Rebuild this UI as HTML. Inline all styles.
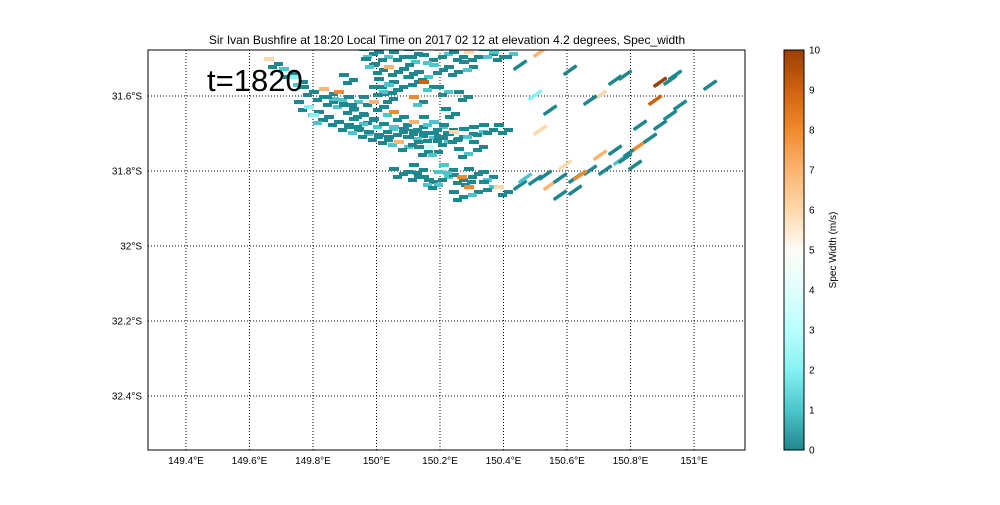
<!DOCTYPE html>
<html><head><meta charset="utf-8"><style>
body{margin:0;background:#fff;font-family:"Liberation Sans",sans-serif;}
svg text{font-family:"Liberation Sans",sans-serif;}
</style></head><body>
<svg id="c" width="1000" height="500" xmlns="http://www.w3.org/2000/svg">
<defs><linearGradient id="cg" x1="0" y1="1" x2="0" y2="0">
<stop offset="0" stop-color="#1f878e"/><stop offset="0.1" stop-color="#4cc6ca"/><stop offset="0.2" stop-color="#86f2f2"/><stop offset="0.3" stop-color="#bafefe"/><stop offset="0.4" stop-color="#e2fefe"/><stop offset="0.5" stop-color="#fdfdf6"/><stop offset="0.6" stop-color="#fdd8ac"/><stop offset="0.7" stop-color="#fbb470"/><stop offset="0.8" stop-color="#f08a2c"/><stop offset="0.9" stop-color="#cf6210"/><stop offset="1" stop-color="#9c3f04"/>
</linearGradient><clipPath id="pc"><rect x="148" y="50" width="597" height="400"/></clipPath></defs>
<text x="447" y="44" font-size="12" text-anchor="middle">Sir Ivan Bushfire at 18:20 Local Time on 2017 02 12 at elevation 4.2 degrees, Spec_width</text>
<g id="grid"></g>
<g id="marks" clip-path="url(#pc)"></g>
<rect x="148" y="50" width="597" height="400" fill="none" stroke="#000" stroke-width="1"/>
<text x="207" y="91" font-size="31">t=1820</text>
<rect x="784" y="50" width="20" height="400" fill="url(#cg)" stroke="#000"/>
<g id="cb"></g>
<text transform="translate(836,250) rotate(-90)" font-size="10" text-anchor="middle">Spec Width (m/s)</text>
</svg>
<script>
const lonTicks=[149.4,149.6,149.8,150.0,150.2,150.4,150.6,150.8,151.0];
const lonLabels=["149.4°E","149.6°E","149.8°E","150°E","150.2°E","150.4°E","150.6°E","150.8°E","151°E"];
const latTicks=[-31.6,-31.8,-32.0,-32.2,-32.4];
const latLabels=["31.6°S","31.8°S","32°S","32.2°S","32.4°S"];
const cbTicks=[0,1,2,3,4,5,6,7,8,9,10];
const echoX=[275,290,300,310,320,330,340,350,360,370,380,390,400,410,420,430,440,305,315,325,335,345,355,365,375,385,395,405,415,425,435,445,455,330,345,355,370,380,390,400,410,420,430,440,450,460,470,480,490,505,370,385,400,415,430,445,460,475,490,510,380,395,410,425,440,455,470,385,400,415,430,445,465,390,420,380,400,415,430,445,460,475,490,435,468,420,450,465,480,460,475,490,505,520,535,550,560,575,590,605,620,630,640,650,660,670,680,600,615,625,635,525,545,565,560,575,580,660,670,675,615,600,570,550,540,590,625,710,655,640,535,520,540,500,320,360,395,350,372,412,452];
const echoY=[62,72,80,90,95,100,102,108,112,118,122,127,130,132,134,136,136,105,110,115,120,125,128,132,135,138,140,145,140,150,150,140,137,92,95,100,100,105,110,115,120,125,120,125,128,135,132,130,128,128,52,55,55,52,58,52,55,55,52,52,68,70,72,75,68,70,65,82,85,80,85,90,95,97,100,90,172,175,180,175,178,172,175,183,180,168,168,152,145,195,190,185,190,185,180,185,178,178,170,170,160,152,145,138,125,115,105,155,150,158,165,178,175,165,195,190,175,82,80,75,80,95,70,110,130,100,75,85,100,125,95,65,52,55,118,122,88,78,62,60,112];
const echoV=[6,1,2,0,0,0,1,0,0,0,0,0,1,0,0,0,0,0,2,0,0,0,0,0,0,0,0,7,0,0,3,0,0,7,8,0,0,7,0,8,0,7,0,1,0,6,0,0,0,0,0,0,0,0,0,7,0,6,0,0,0,7,0,0,1,0,0,0,0,0,9,0,0,0,8,0,0,0,0,1,0,0,0,0,8,0,1,0,0,0,8,0,6,0,0,7,0,0,0,0,1,0,8,0,0,0,0,7,0,0,0,1,0,6,0,0,8,10,0,0,0,6,0,0,6,0,0,0,9,0,2,0,7,1,2,0,1,0,0,0,0];
const lons=echoX.map(x=>149.4+(x-186)/317.5);
const lats=echoY.map(y=>-31.6-(y-96)/375);

const X=lon=>186+(lon-149.4)*317.5;
const Y=lat=>96+(-31.6-lat)*375;
const CB=v=>450-v*40;
const stops=["#1f878e","#4cc6ca","#86f2f2","#bafefe","#e2fefe","#fdfdf6","#fdd8ac","#fbb470","#f08a2c","#cf6210","#9c3f04"];
const NS="http://www.w3.org/2000/svg";
function mk(t,a,p){const e=document.createElementNS(NS,t);for(const k in a)e.setAttribute(k,a[k]);p.appendChild(e);return e;}
const grid=document.getElementById('grid'),marks=document.getElementById('marks'),cb=document.getElementById('cb'),svg=document.getElementById('c');
lonTicks.forEach((l,i)=>{const x=X(l);
 const g=mk('line',{x1:x,x2:x,y1:50,y2:450,stroke:'#000','stroke-dasharray':'1,2'},grid);
 
 
 const t=mk('text',{x:x,y:464,'font-size':10,'text-anchor':'middle'},svg);t.textContent=lonLabels[i];
 
 });
latTicks.forEach((l,i)=>{const y=Y(l);
 const g=mk('line',{x1:148,x2:745,y1:y,y2:y,stroke:'#000','stroke-dasharray':'1,2'},grid);
 
 
 const t=mk('text',{x:142,y:y+3.5,'font-size':10,'text-anchor':'end'},svg);t.textContent=latLabels[i];
 
 });
cbTicks.forEach(v=>{const t=mk('text',{x:809,y:CB(v)+3.5,'font-size':10},cb);t.textContent=v;
 
 });
lons.forEach((lon,i)=>{const x=X(lon),y=Y(lats[i]);
 const left=lon<150.45;
 if(left){
  const offs=[[-6,-3],[4,2],[-2,5]];
  offs.forEach((o,k)=>{
   const fillIdx=k==0?echoV[i]:((i+k)%4==0?1:0);
   const r=mk('rect',{x:x+o[0]-5,y:y+o[1]-2,width:k==0?10:9,height:4,fill:stops[fillIdx]},marks);
   
   
  });
 } else {
  const r=mk('rect',{x:x-8,y:y-1.5,width:16,height:3.5,rx:1,fill:stops[echoV[i]],transform:`rotate(-35 ${x} ${y})`},marks);
  
  
 }});
</script>
</body></html>
